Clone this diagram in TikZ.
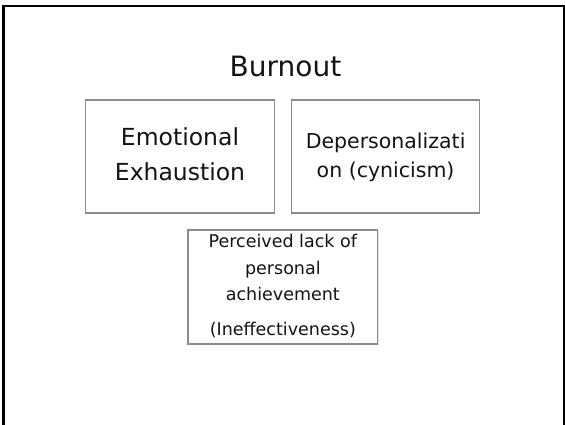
\documentclass[tikz,border=0pt]{standalone}
\usepackage{fontspec}
\setmainfont{DejaVu Sans}
\usetikzlibrary{shadows}
\definecolor{boxgray}{HTML}{8C8C8C}
\definecolor{txt}{HTML}{141414}
\tikzset{
  boxnode/.style={draw=boxgray, line width=1.4pt, fill=white, rectangle, inner sep=0pt,
    drop shadow={opacity=0.18, shadow xshift=0.8pt, shadow yshift=-1.2pt}},
  boxtext/.style={text=txt, align=center, inner sep=0pt}
}
\begin{document}
\begin{tikzpicture}[x=1pt,y=-1pt]
\useasboundingbox (0,0) rectangle (565,424);
\clip (0,0) rectangle (565,424);
\fill[white] (0,0) rectangle (565,424);
% outer frame (bottom edge lies outside the picture)
\draw[line width=2.8pt, black] (3.7,440) -- (3.7,6) -- (564.3,6) -- (564.3,440);
% title
\node[boxtext, font=\fontsize{28}{34}\selectfont] (title) at (285.5,66) {Burnout};
% boxes
\node[boxnode, minimum width=189pt, minimum height=113pt] (ee) at (180,156.5) {};
\node[boxnode, minimum width=187.8pt, minimum height=113pt] (dp) at (385.6,156.5) {};
\node[boxnode, minimum width=189.7pt, minimum height=114pt] (pa) at (282.85,287) {};
% texts
\node[boxtext, font=\fontsize{23.5}{35}\selectfont] (eetext) at (180,154) {Emotional\\Exhaustion};
\node[boxtext, font=\fontsize{20.5}{29}\selectfont] (dptext) at (385.6,157) {Depersonalizati\\on (cynicism)};
\node[boxtext, font=\fontsize{17.5}{26.5}\selectfont] (patext) at (282.85,286) {Perceived lack of\\personal\\achievement\\[8pt](Ineffectiveness)};
\end{tikzpicture}
\end{document}
